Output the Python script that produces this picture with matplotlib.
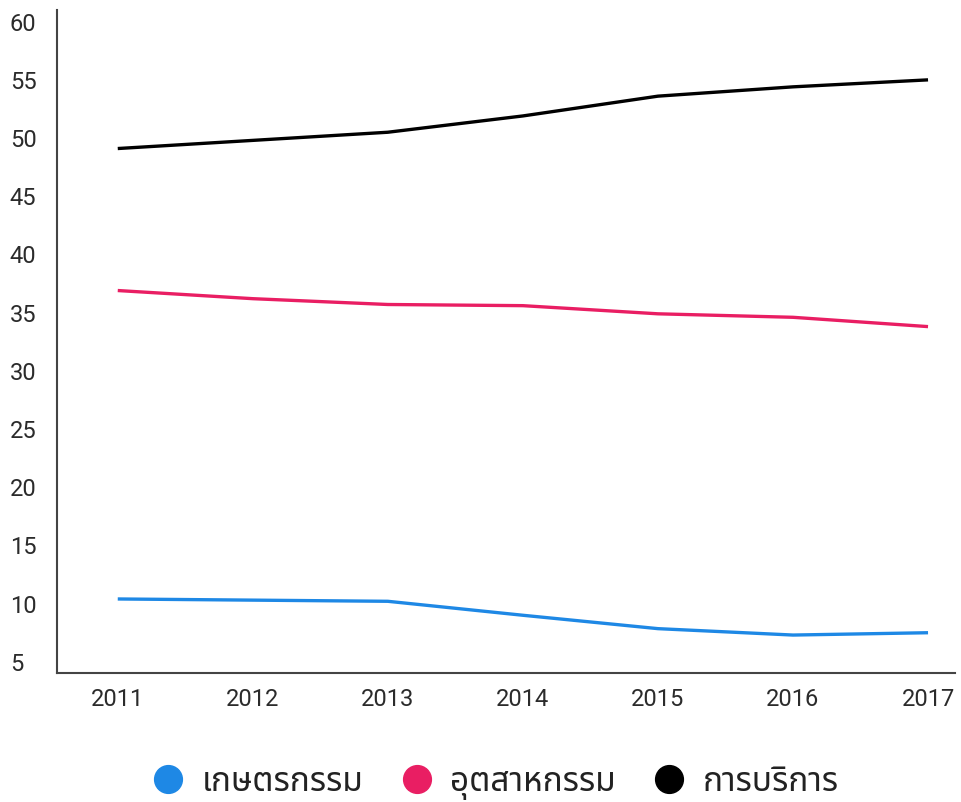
import matplotlib
matplotlib.use("Agg")
import matplotlib.pyplot as plt
from matplotlib import font_manager
from matplotlib.lines import Line2D

years = [2011, 2012, 2013, 2014, 2015, 2016, 2017]
agriculture = [10.4, 10.3, 10.2, 9.0, 7.85, 7.3, 7.5]
industry = [36.9, 36.2, 35.7, 35.6, 34.9, 34.6, 33.8]
services = [49.1, 49.8, 50.5, 51.9, 53.6, 54.4, 55.0]
labels = ["เกษตรกรรม", "อุตสาหกรรม", "การบริการ"]
colors = ["#1E88E5", "#E91E63", "#000000"]
yticks = [5, 10, 15, 20, 25, 30, 35, 40, 45, 50, 55, 60]

# pick fonts that are actually installed
have = {f.name for f in font_manager.fontManager.ttflist}
latin = [n for n in ["Roboto", "DejaVu Sans"] if n in have]
thai = [n for n in ["Noto Sans Thai", "Kanit", "Prompt", "Sarabun"] if n in have][:1]
plt.rcParams["font.family"] = latin[:1] + thai + ["DejaVu Sans"]

fig = plt.figure(figsize=(9.61, 8.02), dpi=100)
ax = fig.add_axes([0.0593, 0.161, 0.9345, 0.8265])

for vals, c in zip([agriculture, industry, services], colors):
    ax.plot(years, vals, color=c, linewidth=2.4, solid_capstyle="butt")

ax.set_xlim(2010.55, 2017.2)
ax.set_ylim(4.05, 61.0)
ax.set_xticks(years)
ax.set_yticks(yticks)
ax.tick_params(axis="both", length=0, labelsize=17, labelcolor="#2b2b2b")
ax.tick_params(axis="x", pad=11)
ax.tick_params(axis="y", pad=34)
for t in ax.get_yticklabels():
    t.set_horizontalalignment("left")

for s in ["top", "right"]:
    ax.spines[s].set_visible(False)
for s in ["left", "bottom"]:
    ax.spines[s].set_color("#444444")
    ax.spines[s].set_linewidth(1.5)

handles = [Line2D([], [], marker="o", linestyle="none", markersize=20,
                  markerfacecolor=c, markeredgecolor=c) for c in colors]
fig.legend(handles, labels, loc="center", bbox_to_anchor=(0.515, 0.024),
           ncol=3, frameon=False, fontsize=24, handlelength=1.0,
           handletextpad=0.5, columnspacing=1.1, labelcolor="#222222")

fig.savefig("out.png", dpi=100)
